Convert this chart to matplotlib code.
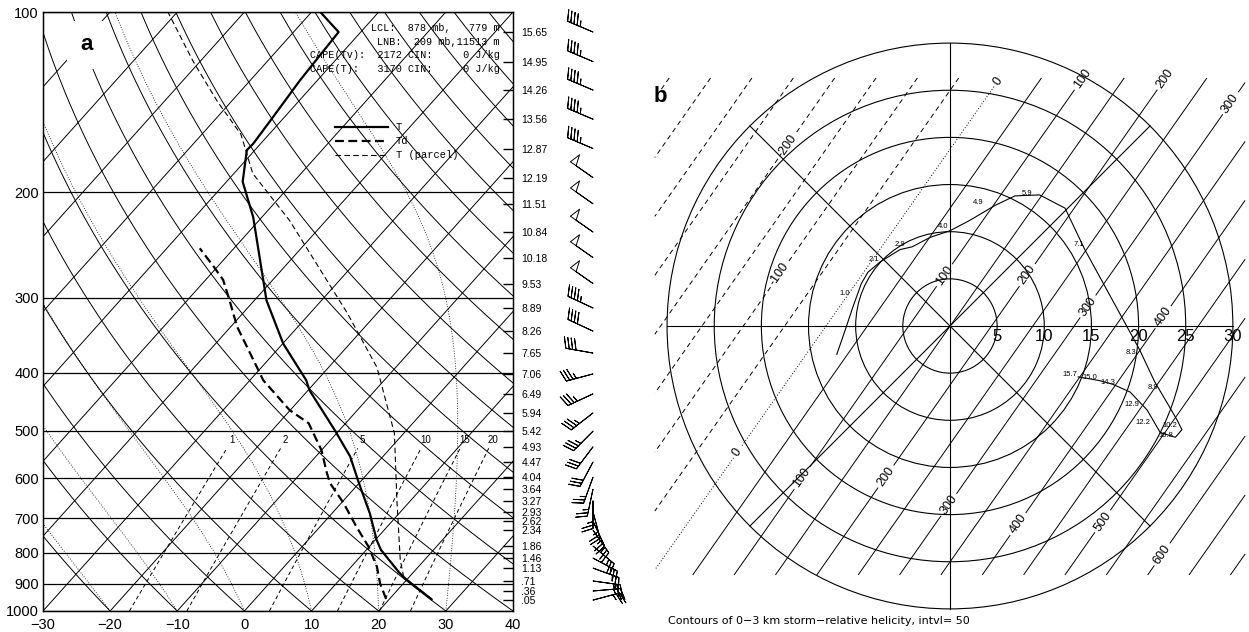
import numpy as np
import matplotlib
matplotlib.use("Agg")
import matplotlib.pyplot as plt
from matplotlib.patches import Circle
from matplotlib.ticker import NullLocator

plt.rcParams['font.family'] = ['Liberation Sans', 'DejaVu Sans']

snd_p = [956, 888, 865, 791, 761, 688, 612, 552, 499, 428, 412, 358, 303, 220, 192, 170, 166, 150, 130, 108, 100]
snd_t = [26.3, 20.1, 18.1, 12.2, 10.2, 5.7, 0.0, -4.9, -10.7, -19.8, -21.6, -29.9, -38.2, -51.3, -57.6,
         -61.2, -61.1, -61.7, -62.6, -63.3, -68.7]
dew_p = [955, 899, 843, 781, 723, 661, 612, 589, 539, 486, 462, 412, 391, 335, 303, 280, 266, 248]
dew_t = [19.5, 16.5, 13.8, 9.9, 5.4, 0.4, -4.3, -6.1, -10.0, -15.5, -20.1, -28.0, -30.8, -39.1, -43.7,
         -47.4, -50.6, -55.1]
pcl_p = [955, 878, 822, 653, 505, 392, 318, 223, 186, 160, 141, 121, 100]
pcl_t = [26.3, 19.2, 16.4, 7.9, -1.4, -12.8, -24.5, -45.4, -57.2, -64.2, -72.1, -81.0, -91.4]

p_ticks = [100, 200, 300, 400, 500, 600, 700, 800, 900, 1000]
t_ticks = [-30, -20, -10, 0, 10, 20, 30, 40]
mix_w = [1, 2, 5, 10, 15, 20]          # g/kg
info_lines = ["LCL:  878 mb,   779 m",
              "LNB:  209 mb,11513 m",
              "CAPE(Tv):  2172 CIN:     0 J/kg",
              "CAPE(T):   3170 CIN:     0 J/kg"]

### height scale (km) on the right and the pressure at each tick
hgt_lab = ['15.65', '14.95', '14.26', '13.56', '12.87', '12.19', '11.51', '10.84', '10.18', '9.53', '8.89',
           '8.26', '7.65', '7.06', '6.49', '5.94', '5.42', '4.93', '4.47', '4.04', '3.64', '3.27', '2.93',
           '2.62', '2.34', '1.86', '1.46', '1.13', '.71', '.36', '.05']
hgt_p = [108, 121, 135, 151, 169, 189, 209, 233, 257, 284, 312, 341, 371, 402, 434, 467, 501, 532, 564,
         598, 626, 655, 683, 708, 733, 779, 816, 848, 891, 926, 959]
### wind barbs at those levels: direction (deg) and speed (kt)
wnd_dir = [293, 293, 293, 293, 293, 305, 305, 305, 305, 305, 295, 295, 280, 255, 245, 232, 225, 217, 208,
           200, 192, 180, 165, 155, 145, 130, 118, 110, 98, 85, 75]
wnd_spd = [45, 45, 45, 45, 45, 50, 50, 50, 50, 50, 45, 40, 40, 35, 35, 35, 35, 30, 30, 25, 25, 25, 25,
           25, 25, 25, 25, 25, 25, 25, 25]

### panel b: hodograph, height (km) and wind (m/s)
hodo_z = [0.05, 0.5, 1.0, 1.5, 2.1, 2.5, 2.9, 3.0, 3.5, 4.0, 4.5, 4.9, 5.5, 5.9, 6.5, 7.1, 7.7, 8.3,
          8.9, 9.5, 10.2, 10.5, 10.8, 11.5, 12.2, 12.9, 13.6, 14.3, 15.0, 15.7]
hodo_u = [-12.0, -11.1, -10.3, -9.4, -8.7, -7.4, -5.3, -4.0, -2.1, 0.0, 2.1, 4.8, 6.9, 9.5, 12.2, 14.3,
          17.2, 20.1, 21.7, 23.0, 24.1, 24.6, 23.9, 22.3, 20.9, 19.1, 17.3, 15.9, 14.8, 13.6]
hodo_v = [-3.0, -0.4, 2.0, 4.5, 5.7, 6.8, 8.1, 8.4, 9.4, 10.1, 11.2, 12.8, 13.8, 13.9, 12.5, 8.1, 2.8,
          -2.5, -5.9, -8.1, -10.0, -11.0, -11.8, -11.3, -8.9, -7.0, -6.2, -5.8, -5.6, -5.4]
hodo_tags = [1.0, 2.1, 2.9, 4.0, 4.9, 5.9, 7.1, 8.3, 8.9, 10.2, 10.8, 12.2, 12.9, 14.3, 15.0, 15.7]
ring_r = [5, 10, 15, 20, 25, 30]
srh_top = 3.0      # km, depth of storm-relative helicity
srh_step = 50

SKEW = 80.0   # deg C per decade of pressure


def skx(t, p):
    return np.asarray(t, float) + SKEW * np.log10(1000.0 / np.asarray(p, float))


def moist_adiabat(tw, pp):
    Rd, cp, Lv, eps = 287.04, 1005.7, 2.501e6, 0.622

    def lapse(T, p):
        es = 6.112 * np.exp(17.67 * (T - 273.15) / (T - 29.65))
        rs = eps * es / (p - es)
        return (Rd * T + Lv * rs) / (p * (cp + Lv * Lv * rs * eps / (Rd * T * T)))
    T = tw + 273.15
    out = [T]
    for p0, p1 in zip(pp[:-1], pp[1:]):
        dp = p1 - p0
        k1 = lapse(T, p0)
        k2 = lapse(T + k1 * dp / 2, p0 + dp / 2)
        T = T + k2 * dp
        out.append(T)
    return np.array(out) - 273.15


fig = plt.figure(figsize=(12.49, 6.32), dpi=100)

# ---------------- panel a : skew-T
axa = fig.add_axes([43 / 1249, 21 / 632, 470 / 1249, 599 / 632])
axa.set_yscale('log')
axa.set_xlim(-30, 40)
axa.set_ylim(1000, 100)
axa.yaxis.set_minor_locator(NullLocator())
axa.set_yticks(p_ticks)
axa.set_yticklabels([str(p) for p in p_ticks])
axa.set_xticks(t_ticks)
axa.set_xticklabels([str(t).replace('-', '\u2212') for t in t_ticks])
axa.tick_params(length=0, labelsize=10.5)
axa.tick_params(axis='y', pad=3)
axa.tick_params(axis='x', pad=5)
for s in axa.spines.values():
    s.set_linewidth(1.0)

lw_thin = 0.7
for p in p_ticks:
    axa.axhline(p, color='k', lw=0.9)
pp = np.array([1050.0, 95.0])
for t in range(-130, 50, 10):
    axa.plot(skx(t, pp), pp, color='k', lw=lw_thin)
pp = np.geomspace(1050, 95, 90)
for th in range(-30, 190, 10):
    tt = (th + 273.15) * (pp / 1000.0) ** 0.2857 - 273.15
    axa.plot(skx(tt, pp), pp, color='k', lw=lw_thin)
pp = np.geomspace(1000, 100, 300)
for tw in [-20, -10, 0, 10, 20, 30]:
    axa.plot(skx(moist_adiabat(tw, pp), pp), pp, color='k', lw=0.6, ls=(0, (1, 2)))
pp = np.geomspace(1000, 535, 30)
for w in mix_w:
    e = w / 1000.0 * pp / (0.622 + w / 1000.0)
    lg = np.log(e / 6.112)
    td = 243.5 * lg / (17.67 - lg)
    axa.plot(skx(td, pp), pp, color='k', lw=lw_thin, ls=(0, (4, 3)))
    e = w / 1000.0 * 518 / (0.622 + w / 1000.0)
    lg = np.log(e / 6.112)
    axa.text(skx(243.5 * lg / (17.67 - lg), 518), 518, str(w), fontsize=7, ha='center', va='center')

axa.plot(skx(snd_t, snd_p), snd_p, color='k', lw=1.6)
axa.plot(skx(dew_t, dew_p), dew_p, color='k', lw=1.6, ls=(0, (4, 2)))
axa.plot(skx(pcl_t, pcl_p), pcl_p, color='k', lw=0.8, ls=(0, (5, 3)))

# legend and parcel info
mono = ['Liberation Mono', 'DejaVu Sans Mono']
leg = [("T", dict(lw=1.6, ls='-')), ("Td", dict(lw=1.6, ls=(0, (4, 2)))),
       ("T (parcel)", dict(lw=0.8, ls=(0, (5, 3))))]
for i, (lab, kw) in enumerate(leg):
    y = 0.808 - i * 0.0235
    axa.plot([0.621, 0.734], [y, y], color='k', transform=axa.transAxes, **kw)
    axa.text(0.750, y, lab, transform=axa.transAxes, fontsize=7.5, family=mono, va='center')
for i, line in enumerate(info_lines):
    axa.text(0.972, 0.973 - i * 0.0225, line, transform=axa.transAxes, fontsize=7.3, family=mono,
             ha='right', va='center')
axa.text(0.0936, 0.945, 'a', transform=axa.transAxes, fontsize=16, fontweight='bold',
         ha='center', va='center', bbox=dict(facecolor='white', edgecolor='none', pad=10))

# height scale on the right
axr = axa.twinx()
axr.set_yscale('log')
axr.set_ylim(1000, 100)
axr.yaxis.set_minor_locator(NullLocator())
axr.set_yticks(hgt_p)
axr.set_yticklabels(hgt_lab)
axr.tick_params(direction='in', length=7, width=1.0, labelsize=7.5, pad=6)

# wind barbs
axw = fig.add_axes([548 / 1249, 21 / 632, 90 / 1249, 599 / 632])
axw.set_yscale('log')
axw.set_ylim(1000, 100)
axw.set_xlim(0, 1)
axw.axis('off')
d = np.deg2rad(wnd_dir)
sp = np.array(wnd_spd, float)
axw.barbs(np.full(len(hgt_p), 0.5), hgt_p, -sp * np.sin(d), -sp * np.cos(d), length=6.3,
          linewidth=0.7, barbcolor='k', flagcolor='white', clip_on=False,
          barb_increments=dict(half=5, full=10, flag=50))

# ---------------- panel b : hodograph with 0-3 km SRH
axb = fig.add_axes([645 / 1249, 0, 604 / 1249, 1])
axb.set_xlim(-32.34, 31.71)
axb.set_ylim(-32.45, 34.57)
axb.axis('off')

for r in ring_r:
    axb.add_patch(Circle((0, 0), r, fill=False, color='k', lw=0.8))
    axb.text(r, -0.3, str(r), fontsize=12, ha='center', va='top')
R = ring_r[-1]
axb.plot([-R, R], [0, 0], color='k', lw=0.8)
axb.plot([0, 0], [-R, R], color='k', lw=0.8)
c45 = R / np.sqrt(2)
axb.plot([-c45, c45], [-c45, c45], color='k', lw=0.8)
axb.plot([-c45, c45], [c45, -c45], color='k', lw=0.8)

# storm-relative helicity as a function of storm motion
hu = np.array(hodo_u)
hv = np.array(hodo_v)
k = np.array(hodo_z) <= srh_top + 1e-6
su, sv = hu[k], hv[k]
cu, cv = np.meshgrid(np.linspace(-31.3, 31.3, 240), np.linspace(-26.4, 26.3, 240))
srh = np.zeros_like(cu)
for i in range(len(su) - 1):
    srh += (su[i + 1] - cu) * (sv[i] - cv) - (su[i] - cu) * (sv[i + 1] - cv)
levels = np.arange(-500, 801, srh_step)
styles = [(0, (5, 4)) if lv < 0 else ((0, (1, 2)) if lv == 0 else 'solid') for lv in levels]
cs = axb.contour(cu, cv, srh, levels=levels, colors='k', linewidths=0.7, linestyles=styles)
lab_pos = [(5.30, 25.77), (14.53, 25.87), (23.33, 25.87), (30.01, 23.44), (-17.18, 18.98), (-17.71, 5.20),
           (-0.32, 5.20), (8.48, 5.20), (15.16, 1.70), (22.27, 1.17), (-22.48, -13.47), (-15.38, -16.33),
           (-6.57, -16.12), (0.21, -19.19), (7.64, -21.31), (16.44, -20.89), (22.59, -24.28)]
axb.clabel(cs, fontsize=9, fmt='%d', inline=True, inline_spacing=3, manual=lab_pos)

axb.plot(hu, hv, color='k', lw=0.8)
tag_off = {1.0: (-6, 10), 2.1: (4, 9), 2.9: (0, 4), 4.0: (-5, 3), 4.9: (-12, 2), 5.9: (-9, 1),
           7.1: (-4, 4), 8.3: (-6, -2), 8.9: (-1, -4), 10.2: (-5, -4), 10.8: (-7, 1), 12.2: (-3, -9),
           12.9: (1, -9), 14.3: (6, -1), 15.0: (0, 1), 15.7: (-6, 2)}
for z, u, v in zip(hodo_z, hodo_u, hodo_v):
    if z in hodo_tags:
        axb.annotate(f"{z:.1f}", (u, v), xytext=tag_off[z], textcoords='offset points',
                     fontsize=5.5, ha='center', va='center')

fig.text(660 / 1249, 1 - 97 / 632, 'b', fontsize=16, fontweight='bold', ha='center', va='center')
fig.text(668 / 1249, 1 - 621 / 632, 'Contours of 0\u22123 km storm\u2212relative helicity, intvl= 50',
         fontsize=8, family=['DejaVu Sans'], ha='left', va='center')

fig.savefig('out.png', dpi=100)
